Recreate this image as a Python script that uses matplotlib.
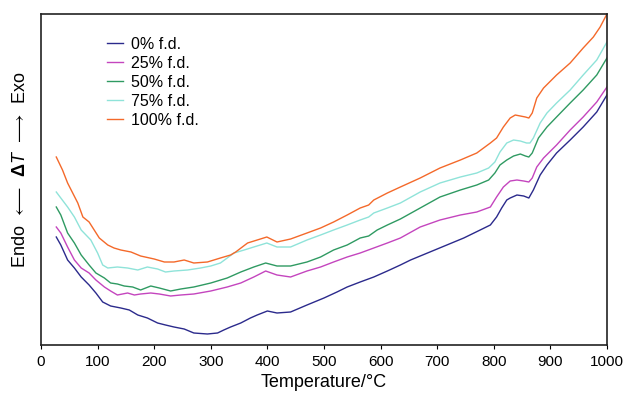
import matplotlib
matplotlib.use("Agg")
import matplotlib.pyplot as plt

# temperatures (°C) and DTA signal (arbitrary units)
t_0 = [27, 35, 47, 59, 71, 85, 97, 109, 123, 141, 156, 171, 188, 206, 220, 235, 253, 270, 294,
       312, 323, 335, 353, 370, 382, 400, 417, 441, 470, 500, 523, 541, 564, 588, 612, 635, 653,
       700, 747, 776, 794, 805, 814, 823, 829, 841, 853, 862, 870, 882, 894, 911, 935, 958, 982, 1000]
s_0 = [108, 100, 85, 77, 68, 60, 52, 43, 39, 37, 35, 30, 27, 22, 20, 18, 16, 12, 11,
       12, 15, 18, 22, 27, 30, 34, 32, 33, 40, 47, 53, 58, 63, 68, 74, 80, 85,
       96, 107, 115, 120, 128, 137, 145, 147, 150, 149, 147, 155, 170, 180, 192, 205, 218, 233, 250]

t_25 = [27, 35, 47, 59, 71, 85, 97, 112, 123, 135, 153, 165, 176, 194, 209, 229, 247, 270, 300,
        329, 353, 376, 397, 417, 441, 470, 494, 517, 541, 564, 588, 612, 635, 670, 705, 741, 770,
        794, 805, 817, 829, 841, 853, 862, 868, 876, 888, 911, 935, 958, 982, 1000]
s_25 = [118, 112, 98, 85, 77, 72, 65, 58, 54, 50, 52, 50, 51, 52, 51, 49, 50, 51, 54,
        58, 62, 68, 74, 70, 68, 74, 78, 83, 88, 92, 97, 102, 107, 118, 125, 130, 133,
        138, 148, 158, 164, 165, 164, 163, 167, 178, 187, 200, 215, 228, 243, 258]

t_50 = [27, 35, 47, 59, 71, 85, 97, 112, 123, 135, 147, 162, 176, 194, 209, 229, 247, 270, 300,
        329, 353, 376, 397, 417, 441, 470, 494, 517, 541, 564, 579, 594, 612, 635, 670, 705, 741,
        770, 791, 802, 811, 823, 835, 847, 856, 862, 868, 879, 894, 911, 935, 958, 982, 1000]
s_50 = [138, 130, 112, 102, 90, 80, 72, 67, 62, 61, 59, 58, 55, 59, 57, 54, 56, 58, 62,
        67, 73, 78, 82, 79, 79, 83, 88, 95, 100, 107, 109, 115, 120, 126, 137, 148, 155,
        160, 165, 172, 180, 185, 189, 191, 189, 188, 192, 207, 218, 228, 242, 255, 270, 287]

t_75 = [27, 35, 47, 59, 71, 88, 100, 109, 118, 135, 153, 171, 188, 206, 220, 235, 259, 282, 300,
        317, 341, 359, 376, 399, 417, 441, 470, 494, 517, 541, 564, 579, 588, 612, 635, 670, 705,
        741, 770, 791, 802, 811, 823, 835, 847, 858, 864, 870, 882, 894, 911, 935, 958, 982, 1000]
s_75 = [153, 147, 138, 128, 115, 105, 92, 80, 77, 78, 77, 75, 78, 76, 73, 74, 75, 77, 79,
        82, 92, 95, 98, 102, 98, 98, 105, 110, 115, 120, 125, 128, 132, 137, 142, 153, 162,
        168, 172, 177, 183, 193, 202, 205, 204, 202, 202, 207, 222, 232, 242, 255, 270, 285, 303]

t_100 = [27, 38, 47, 56, 65, 74, 85, 94, 103, 118, 129, 141, 159, 176, 200, 218, 235, 253, 270,
         294, 317, 335, 344, 365, 382, 399, 417, 441, 470, 494, 517, 541, 564, 579, 588, 612, 635,
         670, 705, 741, 770, 794, 805, 817, 829, 838, 847, 856, 862, 868, 876, 888, 911, 935, 958,
         976, 988, 1000]
s_100 = [188, 175, 162, 152, 142, 128, 123, 115, 107, 100, 97, 95, 93, 89, 86, 83, 83, 85, 82,
         83, 87, 90, 93, 102, 105, 108, 103, 106, 112, 117, 123, 130, 137, 140, 145, 152, 158,
         167, 177, 185, 192, 202, 207, 218, 227, 230, 229, 228, 227, 232, 247, 257, 270, 282, 297,
         308, 318, 331]

series = [
    ("0% f.d.", t_0, s_0, "#2b2a8c"),
    ("25% f.d.", t_25, s_25, "#c445be"),
    ("50% f.d.", t_50, s_50, "#2f9a62"),
    ("75% f.d.", t_75, s_75, "#8fe3d9"),
    ("100% f.d.", t_100, s_100, "#f4692a"),
]

plt.rcParams["font.family"] = ["Liberation Sans", "DejaVu Sans"]
plt.rcParams["mathtext.fontset"] = "custom"
plt.rcParams["mathtext.rm"] = "Liberation Sans"
plt.rcParams["mathtext.it"] = "Liberation Sans:italic"
plt.rcParams["mathtext.bf"] = "Liberation Sans:bold"

fig = plt.figure(figsize=(6.27, 3.96), dpi=100)
ax = fig.add_axes([0.0654, 0.1288, 0.9026, 0.8358])

for name, t, s, c in series:
    ax.plot(t, s, color=c, lw=1.0, label=name)

ax.set_xlim(0, 1000)
ax.set_ylim(0, 331)
ax.set_xticks(range(0, 1001, 100))
ax.set_yticks([])
ax.tick_params(axis="x", direction="out", length=3, width=0.8, labelsize=11, pad=4)
for sp in ax.spines.values():
    sp.set_linewidth(1.2)
    sp.set_color("#222222")

ax.set_xlabel("Temperature/°C", fontsize=13, labelpad=4)
ax.set_ylabel(r"Endo $\,\longleftarrow\,$ $\mathbf{\Delta}\mathit{T}$ $\,\longrightarrow\,$ Exo", fontsize=13)
ax.yaxis.set_label_coords(-0.022, 0.53)

ax.legend(loc="upper left", bbox_to_anchor=(0.106, 0.95), frameon=False, fontsize=11.5,
          handlelength=1.0, handletextpad=0.5, labelspacing=0.25, borderaxespad=0)

fig.savefig("out.png", dpi=100)
